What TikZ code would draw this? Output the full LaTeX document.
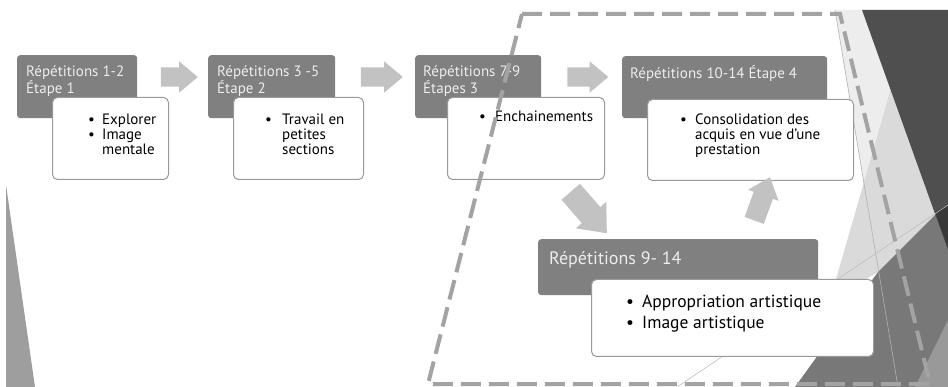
\documentclass[tikz,border=0pt]{standalone}
\usepackage{fontspec}
\setmainfont{PT Sans}
\usetikzlibrary{shapes.arrows,positioning}
\definecolor{hdrgray}{HTML}{808080}
\definecolor{hdrtxt}{HTML}{EDEDED}
\definecolor{boxgray}{HTML}{9A9A9A}
\definecolor{arrgray}{HTML}{C2C2C2}
\definecolor{dashgray}{HTML}{A3A3A3}
\definecolor{facetdark}{HTML}{4F4F4F}
\definecolor{facetmid}{HTML}{787878}
\definecolor{facetlight}{HTML}{DADADA}
\definecolor{facetpale}{HTML}{EDEDED}

\begin{document}
\begin{tikzpicture}[x=1pt, y=-1pt,
    hdr/.style={rectangle, rounded corners=3pt, fill=hdrgray, anchor=north west, inner sep=0pt},
    body/.style={rectangle, rounded corners=5pt, draw=boxgray, line width=1pt, fill=white, anchor=north west, inner sep=0pt},
    hdrtext/.style={anchor=north west, inner sep=0pt, align=left, text=hdrtxt, font=\fontsize{15}{15}\selectfont},
    bodytext/.style={anchor=north west, inner sep=0pt, align=left, font=\fontsize{15}{15}\selectfont},
    blockarrow/.style={single arrow, fill=arrgray, inner xsep=0pt, inner ysep=9.5pt, single arrow head extend=6pt, single arrow tip angle=80}
]
    \useasboundingbox (0,0) rectangle (948,387);
    \fill[white] (0,0) rectangle (948,387);

    % background facets
    \fill[facetpale] (835,10) -- (862,10) -- (948,240) -- (948,387) -- (898,387) -- cycle;
    \fill[facetlight] (892,85) -- (936,214) -- (878,272) -- (830,300) -- cycle;
    \fill[facetmid] (936,214) -- (948,214) -- (948,387) -- (795,387) -- (878,272) -- cycle;
    \fill[black!40] (948,320) -- (948,387) -- (915,387) -- cycle;
    \fill[facetdark] (862,10) -- (948,10) -- (948,250) -- cycle;
    \fill[black!78] (935,212) -- (948,205) -- (948,248) -- cycle;
    \draw[black!30, line width=0.6pt] (835,10) -- (898,387);
    \draw[black!25, line width=0.6pt] (948,205) -- (677,387);
    \fill[black!38] (6,185) -- (35,387) -- (6,387) -- cycle;

    \node[hdr, minimum width=120pt, minimum height=63pt] (hdr1) at (17,55) {};
    \node[hdr, minimum width=127pt, minimum height=63pt] (hdr2) at (208,55) {};
    \node[hdr, minimum width=126pt, minimum height=63pt] (hdr3) at (415,55) {};
    \node[hdr, minimum width=205pt, minimum height=62pt] (hdr4) at (622,56) {};
    \node[hdr, minimum width=280pt, minimum height=56pt] (hdr5) at (538,239) {};

    \node[hdrtext] (hdr1txt) at (26,65.5) {Répétitions 1-2\\Étape 1};
    \node[hdrtext] (hdr2txt) at (217,65.5) {Répétitions 3 -5\\Étape 2};
    \node[hdrtext] (hdr3txt) at (423,65.5) {Répétitions 7-9\\Étapes 3};
    \node[hdrtext] (hdr4txt) at (630,65.5) {Répétitions 10-14 Étape 4};
    \node[hdrtext, font=\fontsize{18}{18}\selectfont] (hdr5txt) at (549,251) {Répétitions 9- 14};

    \node[body, minimum width=116pt, minimum height=82pt] (body1) at (52,97) {};
    \node[body, minimum width=130pt, minimum height=82pt] (body2) at (233,97) {};
    \node[body, minimum width=157pt, minimum height=82pt] (body3) at (447,97) {};
    \node[body, minimum width=206pt, minimum height=81pt] (body4) at (647,99) {};
    \node[body, minimum width=282pt, minimum height=77pt] (body5) at (591,279) {};

    \node[bodytext] (body1txt) at (88,114) {\makebox[14pt][l]{\textbullet}Explorer\\\makebox[14pt][l]{\textbullet}Image\\\hspace*{14pt}mentale};
    \node[bodytext] (body2txt) at (265,114) {\makebox[17pt][l]{\textbullet}Travail en\\\hspace*{17pt}petites\\\hspace*{17pt}sections};
    \node[bodytext] (body3txt) at (479,111) {\makebox[16pt][l]{\textbullet}Enchainements};
    \node[bodytext] (body4txt) at (680,114) {\makebox[15pt][l]{\textbullet}Consolidation des\\\hspace*{15pt}acquis en vue d'une\\\hspace*{15pt}prestation};
    \node[bodytext, font=\fontsize{17.5}{20.5}\selectfont] (body5txt) at (626,295) {\makebox[16pt][l]{\textbullet}Appropriation artistique\\\makebox[16pt][l]{\textbullet}Image artistique};

    \node[blockarrow, minimum height=37pt] (arr1) at (173.5,77) {};
    \node[blockarrow, minimum height=42pt] (arr2) at (376,77) {};
    \node[blockarrow, minimum height=41pt] (arr3) at (582,77) {};
    \node[blockarrow, minimum height=55pt, inner ysep=12pt, single arrow head extend=8pt, rotate=-49] (arr4) at (584,207) {};
    \node[blockarrow, minimum height=46pt, inner ysep=10pt, single arrow head extend=6pt, rotate=70] (arr5) at (760,204.5) {};

    % dashed frame round the last steps
    \draw[dashgray, line width=4pt, dash pattern=on 20pt off 8pt] (522,14) -- (840,14) -- (930,384) -- (428,384) -- cycle;
\end{tikzpicture}
\end{document}
